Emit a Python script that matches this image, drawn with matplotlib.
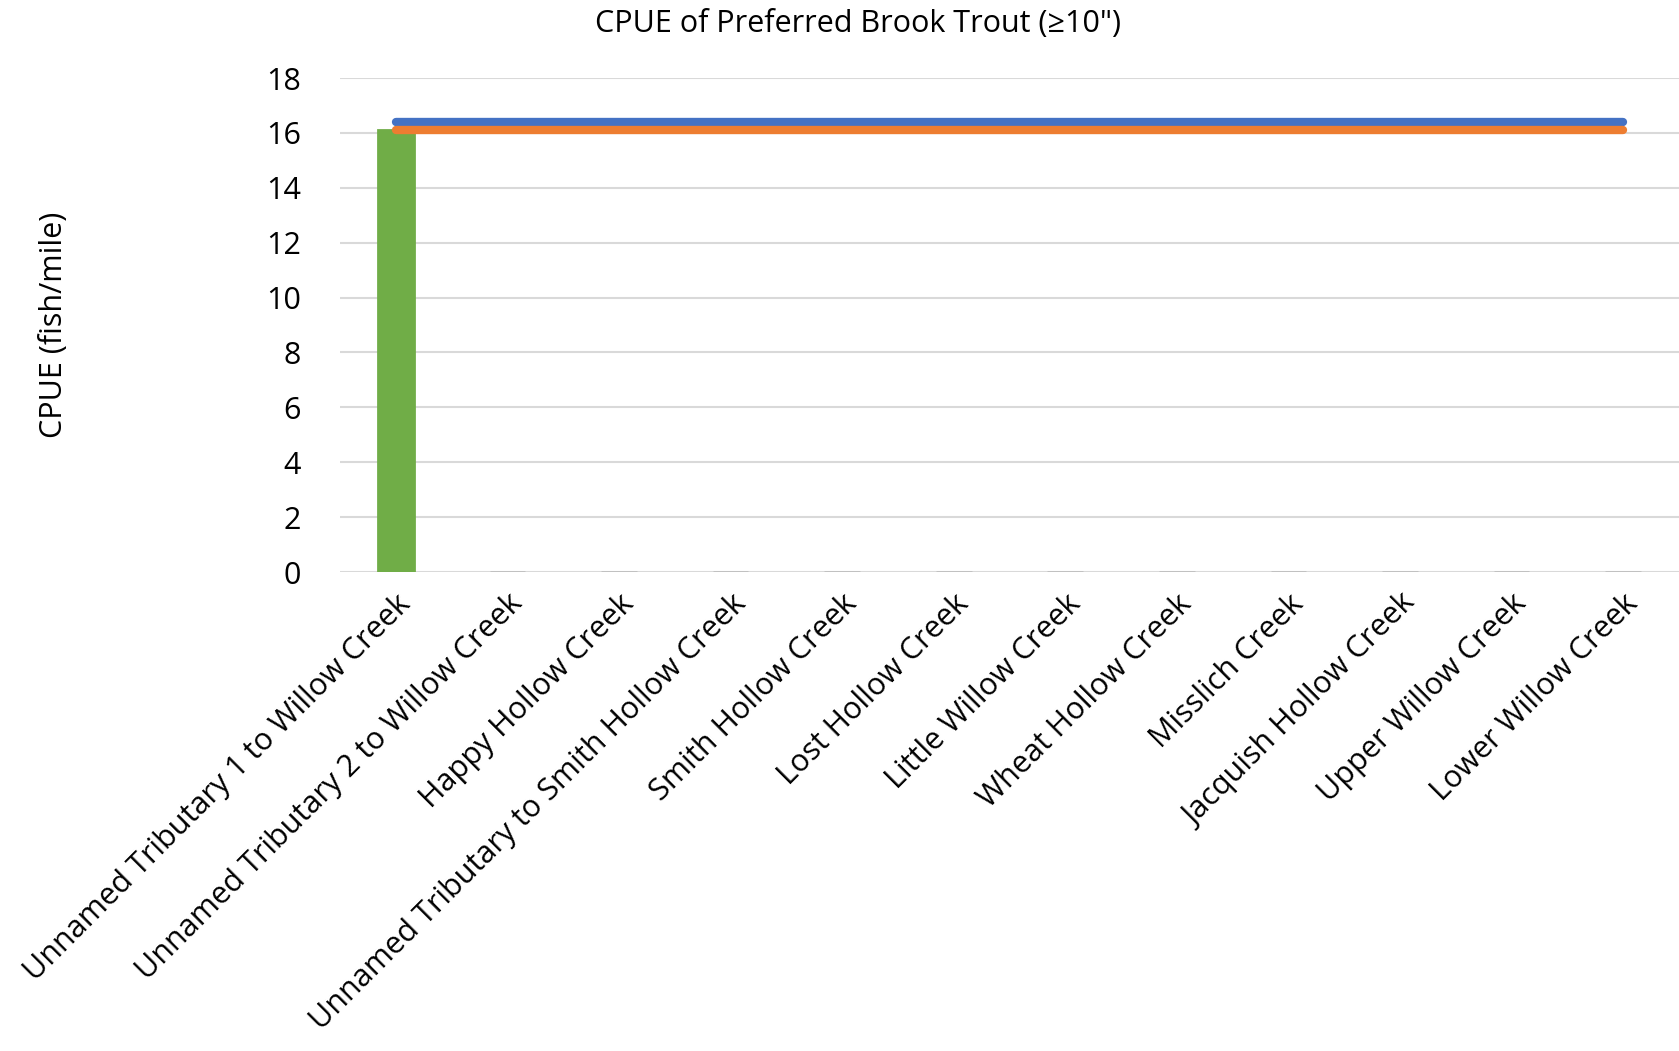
import matplotlib

matplotlib.use("Agg")
import matplotlib.pyplot as plt  # noqa: E402
import numpy as np  # noqa: E402

# ---------------------------------------------------------------------------
# Data
# ---------------------------------------------------------------------------
STREAMS = [
    "Unnamed Tributary 1 to Willow Creek",
    "Unnamed Tributary 2 to Willow Creek",
    "Happy Hollow Creek",
    "Unnamed Tributary to Smith Hollow Creek",
    "Smith Hollow Creek",
    "Lost Hollow Creek",
    "Little Willow Creek",
    "Wheat Hollow Creek",
    "Misslich Creek",
    "Jacquish Hollow Creek",
    "Upper Willow Creek",
    "Lower Willow Creek",
]
CPUE = [16.1, 0, 0, 0, 0, 0, 0, 0, 0, 0, 0, 0]
REF_BLUE = [16.4] * len(STREAMS)
REF_ORANGE = [16.1] * len(STREAMS)

TITLE = 'CPUE of Preferred Brook Trout (\u226510")'
YLABEL = "CPUE (fish/mile)"

FS = 22
plt.rcParams["font.family"] = ["Open Sans", "DejaVu Sans"]

fig = plt.figure(figsize=(16.79, 10.51), dpi=100)
ax = fig.add_axes([340 / 1679, 1 - 572 / 1051, (1679 - 340) / 1679, (572 - 78) / 1051])

x = np.arange(len(STREAMS))
colors = ["#70AD47" if v > 0 else "#BFBFBF" for v in CPUE]
ax.bar(x, CPUE, width=0.32, color=colors, edgecolor=colors, linewidth=2, zorder=2)
ax.plot(x, REF_BLUE, color="#4472C4", lw=6, solid_capstyle="round", zorder=3)
ax.plot(x, REF_ORANGE, color="#ED7D31", lw=6, solid_capstyle="round", zorder=3)

ax.set_xlim(-0.5, len(STREAMS) - 0.5)
ax.set_ylim(0, 18)
ax.set_yticks(range(0, 19, 2))
ax.yaxis.grid(True, color="#D9D9D9", lw=1.5, zorder=0)
ax.set_axisbelow(True)
for side in ("top", "right", "left", "bottom"):
    ax.spines[side].set_visible(False)
ax.tick_params(axis="both", length=0, labelsize=FS, colors="black")
ax.tick_params(axis="y", pad=28)
ax.set_xticks(x)
ax.set_xticklabels(STREAMS, rotation=45, ha="right", rotation_mode="anchor", fontsize=FS)
ax.tick_params(axis="x", pad=12)

fig.text(858 / 1679, 1 - 24 / 1051, TITLE, ha="center", va="center", fontsize=FS)
fig.text(54 / 1679, 1 - 325 / 1051, YLABEL, ha="center", va="center", rotation=90, fontsize=FS)

fig.savefig("out.png", dpi=100)
